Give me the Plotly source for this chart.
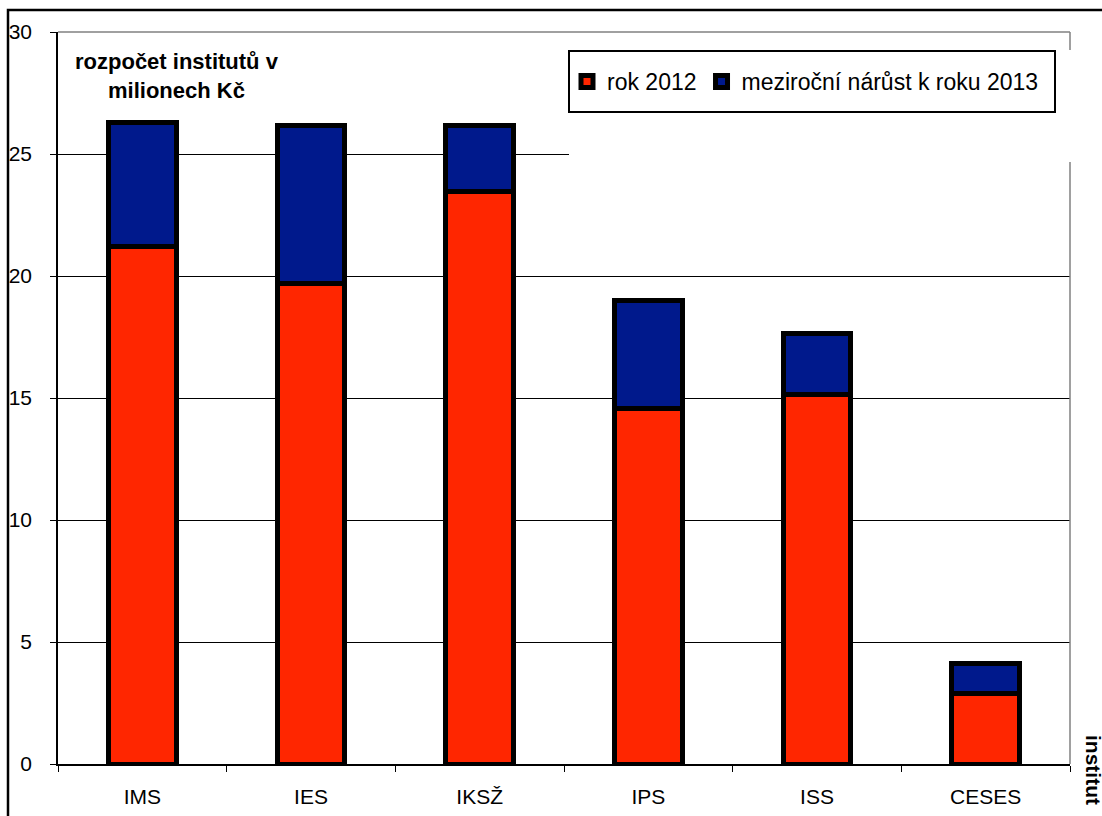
import plotly.graph_objects as go

categories = ["IMS", "IES", "IKSŽ", "IPS", "ISS", "CESES"]
rok_2012 = [21.2, 19.7, 23.45, 14.55, 15.15, 2.87]
narust_2013 = [5.1, 6.45, 2.7, 4.43, 2.5, 1.26]
y_ticks = [0, 5, 10, 15, 20, 25, 30]

RED = "#ff2600"
BLUE = "#00198c"
FONT = "Arial, Liberation Sans, sans-serif"

W, H = 1102, 816
L, R, T, B = 58, 32, 32, 52
PW, PH = W - L - R, H - T - B

def px_x(x):
    return (x - L) / PW

def px_y(y):
    return (H - B - y) / PH

fig = go.Figure()
fig.add_trace(go.Bar(
    x=categories, y=rok_2012, name="rok 2012",
    marker=dict(color=RED, line=dict(color="black", width=5)),
))
fig.add_trace(go.Bar(
    x=categories, y=narust_2013, name="meziroční nárůst k roku 2013",
    marker=dict(color=BLUE, line=dict(color="black", width=5)),
))

shapes = [
    # outer chart frame (partially visible)
    dict(type="rect", xref="paper", yref="paper",
         x0=px_x(8), x1=px_x(1200), y0=px_y(900), y1=px_y(10),
         line=dict(color="black", width=2.5), layer="below"),
    # top and right plot border (gray)
    dict(type="line", xref="paper", yref="paper",
         x0=0, x1=1, y0=1, y1=1, line=dict(color="#808080", width=1.5), layer="above"),
    dict(type="line", xref="paper", yref="paper",
         x0=1, x1=1, y0=0, y1=1, line=dict(color="#808080", width=1.5), layer="above"),
    # white area behind legend
    dict(type="rect", xref="paper", yref="paper",
         x0=px_x(569), x1=px_x(1076), y0=px_y(162), y1=px_y(50),
         fillcolor="white", line=dict(width=0), layer="above"),
    # legend box
    dict(type="rect", xref="paper", yref="paper",
         x0=px_x(569), x1=px_x(1055), y0=px_y(112), y1=px_y(51),
         fillcolor="white", line=dict(color="black", width=2), layer="above"),
]

annotations = [
    dict(text="<b>rozpočet institutů v<br>milionech Kč</b>", xref="paper", yref="paper",
         x=px_x(177), y=px_y(76), xanchor="center", yanchor="middle", showarrow=False,
         font=dict(family=FONT, size=22, color="black"), align="center"),
    dict(text="<b>institut</b>", xref="paper", yref="paper",
         x=px_x(1094), y=px_y(733), xanchor="center", yanchor="top", showarrow=False,
         textangle=90, font=dict(family=FONT, size=21, color="black")),
]

fig.update_layout(
    width=W, height=H,
    margin=dict(l=L, r=R, t=T, b=B, autoexpand=False),
    paper_bgcolor="white", plot_bgcolor="white",
    barmode="stack", bargap=0.6,
    font=dict(family=FONT, size=21, color="black"),
    showlegend=True,
    legend=dict(orientation="h", x=px_x(567), y=px_y(81.5), xanchor="left", yanchor="middle",
                bgcolor="rgba(0,0,0,0)", borderwidth=0,
                font=dict(family=FONT, size=23, color="black"), traceorder="normal"),
    shapes=shapes,
    annotations=annotations,
    xaxis=dict(type="category", showgrid=False, showline=True, linecolor="black", linewidth=1.5,
               ticks="outside", ticklen=6, tickcolor="black", tickson="boundaries",
               tickfont=dict(family=FONT, size=21, color="black"), ticklabelstandoff=13),
    yaxis=dict(range=[0, 30], tickvals=y_ticks, showgrid=True, gridcolor="black", gridwidth=1.2,
               showline=True, linecolor="black", linewidth=1.5, zeroline=False,
               ticks="outside", ticklen=6, tickcolor="black",
               tickfont=dict(family=FONT, size=21, color="black"), ticklabelstandoff=14),
)

fig.write_html("out.html")
